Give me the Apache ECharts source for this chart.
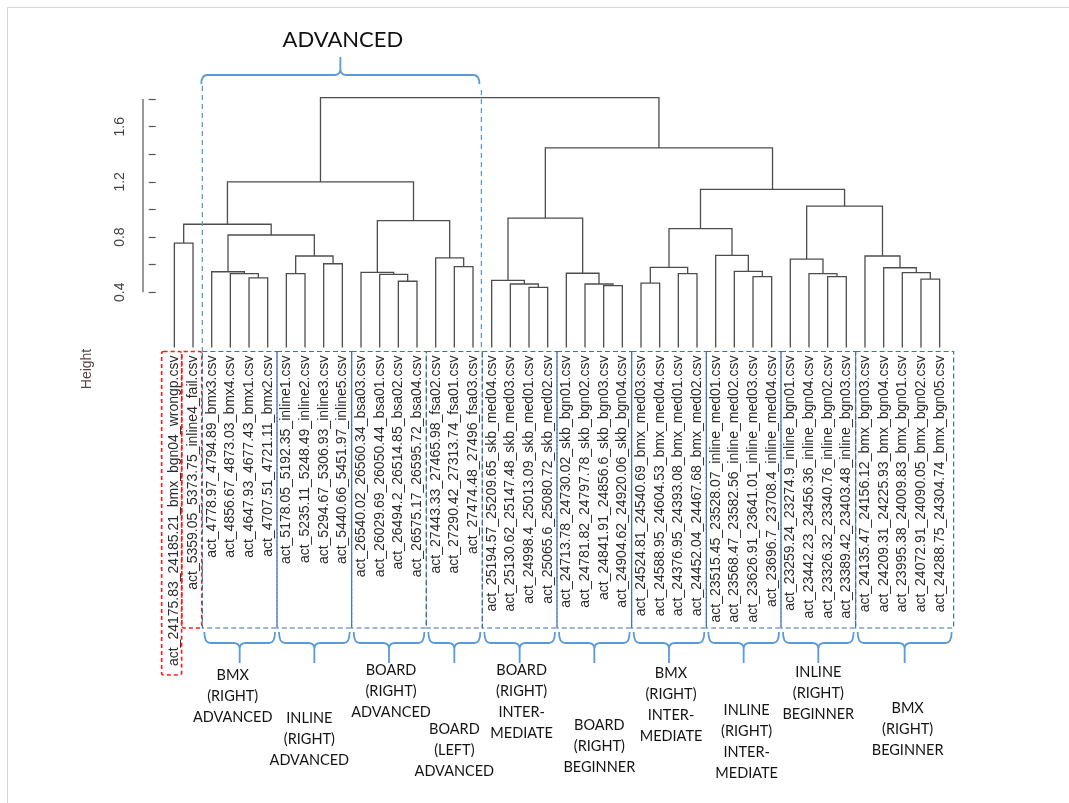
<!DOCTYPE html>
<html><head><meta charset="utf-8">
<script src="https://cdn.jsdelivr.net/npm/echarts@6/dist/echarts.min.js"></script>
<style>html,body{margin:0;padding:0;background:#fff}#c{width:1069px;height:803px}</style>
</head><body><div id="c"></div>
<script>
// ---------------- DATA ----------------
const leafLabels = [
  'act_24175.83_24185.21_bmx_bgn04_wrongp.csv',
  'act_5359.05_5373.75_inline4_fail.csv',
  'act_4778.97_4794.89_bmx3.csv',
  'act_4856.67_4873.03_bmx4.csv',
  'act_4647.93_4677.43_bmx1.csv',
  'act_4707.51_4721.11_bmx2.csv',
  'act_5178.05_5192.35_inline1.csv',
  'act_5235.11_5248.49_inline2.csv',
  'act_5294.67_5306.93_inline3.csv',
  'act_5440.66_5451.97_inline5.csv',
  'act_26540.02_26560.34_bsa03.csv',
  'act_26029.69_26050.44_bsa01.csv',
  'act_26494.2_26514.85_bsa02.csv',
  'act_26575.17_26595.72_bsa04.csv',
  'act_27443.33_27465.98_fsa02.csv',
  'act_27290.42_27313.74_fsa01.csv',
  'act_27474.48_27496_fsa03.csv',
  'act_25194.57_25209.65_skb_med04.csv',
  'act_25130.62_25147.48_skb_med03.csv',
  'act_24998.4_25013.09_skb_med01.csv',
  'act_25065.6_25080.72_skb_med02.csv',
  'act_24713.78_24730.02_skb_bgn01.csv',
  'act_24781.82_24797.78_skb_bgn02.csv',
  'act_24841.91_24856.6_skb_bgn03.csv',
  'act_24904.62_24920.06_skb_bgn04.csv',
  'act_24524.81_24540.69_bmx_med03.csv',
  'act_24588.95_24604.53_bmx_med04.csv',
  'act_24376.95_24393.08_bmx_med01.csv',
  'act_24452.04_24467.68_bmx_med02.csv',
  'act_23515.45_23528.07_inline_med01.csv',
  'act_23568.47_23582.56_inline_med02.csv',
  'act_23626.91_23641.01_inline_med03.csv',
  'act_23696.7_23708.4_inline_med04.csv',
  'act_23259.24_23274.9_inline_bgn01.csv',
  'act_23442.23_23456.36_inline_bgn04.csv',
  'act_23326.32_23340.76_inline_bgn02.csv',
  'act_23389.42_23403.48_inline_bgn03.csv',
  'act_24135.47_24156.12_bmx_bgn03.csv',
  'act_24209.31_24225.93_bmx_bgn04.csv',
  'act_23995.38_24009.83_bmx_bgn01.csv',
  'act_24072.91_24090.05_bmx_bgn02.csv',
  'act_24288.75_24304.74_bmx_bgn05.csv'
];
// hclust-style merges: negative = leaf (1-based, plot order), positive = earlier merge (1-based)
const mergeA = [-5,-4,-3,-7,-9, 4, 3,-1, 8,-13,-12,-11,-16,-15,12, 9,-20,-19,-18,-24,-23,-22,19,-26,-28,24,-32,-31,-30,26,-36,-35,-34,-41,-40,-39,-38,33,30,23,16];
const mergeB = [-6, 1, 2,-8,-10,5, 6,-2, 7,-14, 10, 11,-17, 13,14,15,-21, 17, 18,-25, 20, 21,22,-27,-29,25,-33, 27, 28,29,-37, 31, 32,-42, 34, 35, 36,37,38,39,40];
const mergeHeight = [0.504,0.535,0.549,0.535,0.607,0.663,0.815,0.757,0.893,0.480,0.530,0.545,0.586,0.649,0.919,1.200,
  0.436,0.460,0.487,0.448,0.460,0.538,0.938,0.467,0.535,0.581,0.513,0.552,0.668,0.861,0.513,0.535,0.641,0.496,0.542,0.578,0.663,1.025,1.146,1.446,1.810];
const yTickValues = [0.4,0.6,0.8,1.0,1.2,1.4,1.6,1.8];
const yLabelValues = [0.4,0.8,1.2,1.6];
const yAxisTitle = 'Height';

const topGroupTitle = 'ADVANCED';
const topGroupStart = 3, topGroupEnd = 17;
const outlierStart = [1, 2];
const outlierEnd = [1, 2];
const groupNames = ['BMX\n(RIGHT)\nADVANCED','INLINE\n(RIGHT)\nADVANCED','BOARD\n(RIGHT)\nADVANCED','BOARD\n(LEFT)\nADVANCED',
  'BOARD\n(RIGHT)\nINTER-\nMEDIATE','BOARD\n(RIGHT)\nBEGINNER','BMX\n(RIGHT)\nINTER-\nMEDIATE','INLINE\n(RIGHT)\nINTER-\nMEDIATE',
  'INLINE\n(RIGHT)\nBEGINNER','BMX\n(RIGHT)\nBEGINNER'];
const groupStart = [3,7,11,15,18,22,26,30,34,38];
const groupEnd   = [6,10,14,17,21,25,29,33,37,42];

// ---------------- LAYOUT (positions & styles) ----------------
const X_MIN = -0.68, X_MAX = 43.68;
const Y_MIN = 0, Y_MAX = 1.81;
const groupTextY  = [675, 718, 670, 729, 670, 725, 673, 710, 672, 708]; // first-line centers
const groupTextDX = [-7, -5, 2, 0, 2, 5, 2, 3, 0, 3];
const outlierPadL = [0.68, 0.6], outlierPadR = [0.39, 0.47];
const outlierBottom = [675, 628];
const BOX_TOP = 351.5, BOX_BOTTOM = 628;
const BRACE_TOP = 632, BRACE_MID = 643, BRACE_TIP = 663;
const LINE_H = 21;
const BLUE_LIGHT = '#5b9bd5', BLUE_BOX = '#3a70b5';
const TREE_COLOR = '#4d4d4d';
const CAL_FONT = 'Lato, "Open Sans", sans-serif';

// ---------------- BUILD ----------------
const nodeX = [], nodeY = [];
function childXY(v) { return v < 0 ? [-v, 0] : [nodeX[v - 1], nodeY[v - 1]]; }
const segData = [];
for (let k = 0; k < mergeA.length; k++) {
  const a = childXY(mergeA[k]), b = childXY(mergeB[k]);
  nodeX.push((a[0] + b[0]) / 2); nodeY.push(mergeHeight[k]);
  segData.push([a[0], a[1], b[0], b[1], mergeHeight[k]]);
}
const leafValues = leafLabels.map((_, i) => i + 1);

function bracePath(x1, x2, yEnd, yMid, yTip) {
  const xc = (x1 + x2) / 2, r = 6, s = Math.sign(yTip - yMid);
  return `M${x1},${yEnd} Q${x1},${yMid} ${x1 + r},${yMid} L${xc - r},${yMid} Q${xc},${yMid} ${xc},${yMid + s * 6} L${xc},${yTip}` +
         ` M${x2},${yEnd} Q${x2},${yMid} ${x2 - r},${yMid} L${xc + r},${yMid} Q${xc},${yMid} ${xc},${yMid + s * 6}`;
}

const chart = echarts.init(document.getElementById('c'), null, { renderer: 'canvas' });
chart.setOption({
  animation: false,
  backgroundColor: '#fff',
  grid: { left: 143, top: 97.7, width: 828, height: 249.8, containLabel: false },
  xAxis: {
    type: 'value', min: X_MIN, max: X_MAX,
    axisLine: { show: false }, axisTick: { show: false }, splitLine: { show: false },
    axisLabel: {
      customValues: leafValues, rotate: 90, margin: 8, fontSize: 14,
      fontFamily: '"Liberation Sans", Arial, sans-serif', color: '#2b2b2b', hideOverlap: false,
      formatter: v => leafLabels[Math.round(v) - 1] || ''
    }
  },
  yAxis: {
    type: 'value', min: Y_MIN, max: Y_MAX,
    axisLine: { show: false }, splitLine: { show: false },
    axisTick: { show: true, customValues: yTickValues, length: 7, lineStyle: { color: '#555', width: 1.2 } },
    axisLabel: {
      customValues: yLabelValues, rotate: 90, margin: 16, fontSize: 14,
      fontFamily: '"Liberation Sans", Arial, sans-serif', color: '#444',
      formatter: v => v.toFixed(1)
    }
  },
  graphic: [
    { type: 'line', shape: { x1: 7.5, y1: 7.5, x2: 1069, y2: 7.5 }, style: { stroke: '#d4d4d4', lineWidth: 1 } },
    { type: 'line', shape: { x1: 7.5, y1: 7.5, x2: 7.5, y2: 803 }, style: { stroke: '#d4d4d4', lineWidth: 1 } },
    { type: 'text', x: 87, y: 369, rotation: Math.PI / 2,
      style: { text: yAxisTitle, textAlign: 'center', textVerticalAlign: 'middle', fontSize: 14,
               fontFamily: '"Liberation Sans", Arial, sans-serif', fill: '#5a4646' } }
  ],
  series: [
    { // y axis line from first to last tick
      type: 'custom', silent: true, clip: false,
      data: [[X_MIN, yTickValues[0], yTickValues[yTickValues.length - 1]]],
      encode: { x: 0, y: [1, 2] },
      renderItem: (params, api) => {
        const p1 = api.coord([api.value(0), api.value(1)]);
        const p2 = api.coord([api.value(0), api.value(2)]);
        return { type: 'line', shape: { x1: p1[0], y1: p1[1], x2: p2[0], y2: p2[1] }, style: { stroke: '#555', lineWidth: 1.2 } };
      }
    },
    { // dendrogram
      type: 'custom', silent: true, clip: false,
      data: segData, encode: { x: [0, 2], y: [1, 3, 4] },
      renderItem: (params, api) => {
        const p1 = api.coord([api.value(0), api.value(1)]);
        const p2 = api.coord([api.value(0), api.value(4)]);
        const p3 = api.coord([api.value(2), api.value(4)]);
        const p4 = api.coord([api.value(2), api.value(3)]);
        return { type: 'polyline', shape: { points: [p1, p2, p3, p4] }, style: { stroke: TREE_COLOR, lineWidth: 1.3, fill: null } };
      }
    },
    { // outlier red boxes
      type: 'custom', silent: true, clip: false,
      data: outlierStart.map((s, i) => [s, outlierEnd[i], 0]), encode: { x: [0, 1], y: 2 },
      renderItem: (params, api) => {
        const i = params.dataIndex;
        const xl = api.coord([api.value(0) - outlierPadL[i], 0])[0];
        const xr = api.coord([api.value(1) + outlierPadR[i], 0])[0];
        return { type: 'rect', shape: { x: xl, y: BOX_TOP, width: xr - xl, height: outlierBottom[i] - BOX_TOP, r: 2 },
                 style: { stroke: '#ff1a1a', lineWidth: 1.6, fill: null, lineDash: [4, 3] } };
      }
    },
    { // group boxes, braces and labels
      type: 'custom', silent: true, clip: false,
      data: groupStart.map((s, i) => [s, groupEnd[i], 0]), encode: { x: [0, 1], y: 2 },
      renderItem: (params, api) => {
        const i = params.dataIndex;
        const xl = api.coord([api.value(0) - 0.5, 0])[0];
        const xr = api.coord([api.value(1) + (i === groupStart.length - 1 ? 0.75 : 0.5), 0])[0];
        const xc = (xl + xr) / 2;
        return { type: 'group', children: [
          { type: 'rect', shape: { x: xl, y: BOX_TOP, width: xr - xl, height: BOX_BOTTOM - BOX_TOP },
            style: { stroke: BLUE_BOX, lineWidth: 1.2, fill: null, lineDash: [5, 3] } },
          { type: 'path', shape: { pathData: bracePath(xl + 2, xr - 2, BRACE_TOP, BRACE_MID, BRACE_TIP) },
            style: { stroke: BLUE_LIGHT, lineWidth: 1.8, fill: null } },
          { type: 'text', x: xc + groupTextDX[i], y: groupTextY[i] - LINE_H / 2,
            style: { text: groupNames[i], textAlign: 'center', textVerticalAlign: 'top', fontSize: 14.5,
                     lineHeight: LINE_H, fontFamily: CAL_FONT, fill: '#141414' } }
        ] };
      }
    },
    { // top "ADVANCED" brace, dashed guides and title
      type: 'custom', silent: true, clip: false,
      data: [[topGroupStart, topGroupEnd, 0]], encode: { x: [0, 1], y: 2 },
      renderItem: (params, api) => {
        const xl = api.coord([api.value(0) - 0.5, 0])[0];
        const xr = api.coord([api.value(1) + 0.45, 0])[0];
        const xc = (xl + xr) / 2;
        return { type: 'group', children: [
          { type: 'line', shape: { x1: xl, y1: 86, x2: xl, y2: BOX_TOP }, style: { stroke: BLUE_LIGHT, lineWidth: 1.3, lineDash: [5, 4] } },
          { type: 'line', shape: { x1: xr, y1: 90, x2: xr, y2: BOX_TOP }, style: { stroke: BLUE_LIGHT, lineWidth: 1.3, lineDash: [5, 4] } },
          { type: 'path', shape: { pathData: bracePath(xl - 1, xr - 2, 84, 75, 57) },
            style: { stroke: BLUE_LIGHT, lineWidth: 1.8, fill: null } },
          { type: 'text', x: xc + 1, y: 40,
            style: { text: topGroupTitle, textAlign: 'center', textVerticalAlign: 'middle', fontSize: 22,
                     fontFamily: CAL_FONT, fill: '#111' } }
        ] };
      }
    }
  ]
});
</script>
</body></html>
